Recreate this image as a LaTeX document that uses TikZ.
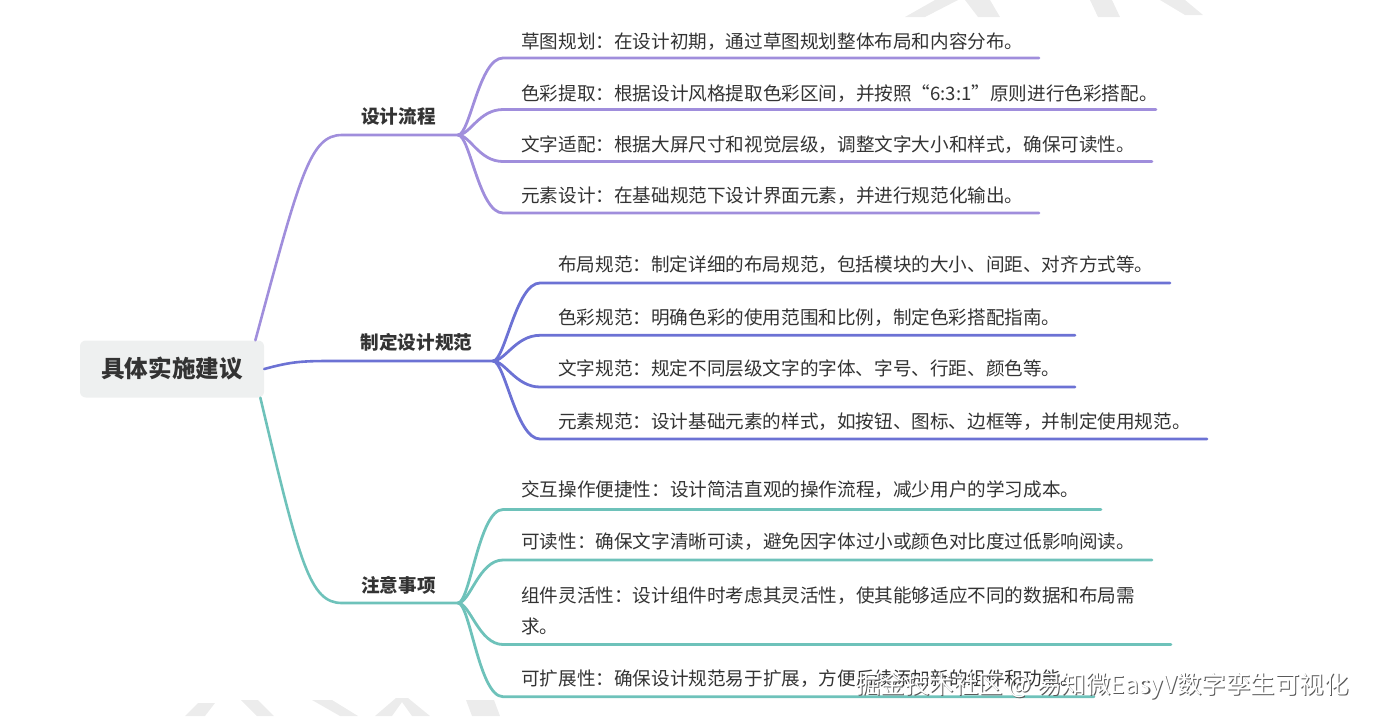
\documentclass[tikz,border=0pt]{standalone}
\usepackage{fontspec}
\setmainfont{Noto Sans CJK SC}
\usetikzlibrary{positioning}
\definecolor{rootbox}{RGB}{238,240,240}
\definecolor{flowline}{RGB}{160,142,220}
\definecolor{specline}{RGB}{108,114,212}
\definecolor{noteline}{RGB}{110,194,186}
\definecolor{inktext}{RGB}{51,51,51}
\definecolor{markgray}{RGB}{236,236,236}
\tikzset{
  root/.style={
    fill=rootbox,
    rounded corners=2mm,
    minimum width=184pt,
    minimum height=57pt,
    text=inktext,
    font=\fontsize{23.6}{28}\selectfont\bfseries
  },
  topic/.style={inner sep=0pt, text=inktext, font=\fontsize{18.6}{22}\selectfont\bfseries},
  item/.style={inner sep=0pt, anchor=west, align=left, text=inktext, font=\fontsize{18.6}{31.7}\selectfont},
  link/.style={line width=2.8pt, line cap=round},
  stem/.style={line width=2.6pt, line cap=round}
}

\begin{document}
\begin{tikzpicture}[x=1pt,y=-1pt]
        \useasboundingbox (0,0) rectangle (1379,716);
        % faint marks behind the map
        \fill[markgray] (935,0) -- (958,0) -- (925,17) -- (905,17) -- cycle;
        \fill[markgray] (965,0) -- (990,0) -- (1000,17) -- (978,17) -- cycle;
        \fill[markgray] (1090,0) -- (1112,0) -- (1120,17) -- (1098,17) -- cycle;
        \fill[markgray] (1160,0) -- (1185,0) -- (1203,15) -- (1185,15) -- cycle;
        \fill[markgray] (185,716) -- (205,716) -- (215,703) -- (198,703) -- cycle;
        \fill[markgray] (241,700) -- (258,700) -- (274,716) -- (257,716) -- cycle;
        \fill[markgray] (312,700) -- (332,700) -- (358,716) -- (340,716) -- cycle;
        \fill[markgray] (375,716) -- (392,716) -- (402,702) -- (412,716) -- (430,716) -- (408,698) -- (396,698) -- cycle;
        \fill[markgray] (466,700) -- (494,700) -- (500,716) -- (472,716) -- cycle;

        \node[root] (root) at (172,369) {具体实施建议};

        \node[topic] (flow) at (398.5,116.7) {设计流程};
        \node[topic] (spec) at (416.5,342.3) {制定设计规范};
        \node[topic] (note) at (398.5,585) {注意事项};

        \coordinate (flowknee) at (342,135);
        \coordinate (flowfan) at (458,135);
        \coordinate (specknee) at (330,361);
        \coordinate (specfan) at (493,361);
        \coordinate (noteknee) at (342,603);
        \coordinate (notefan) at (458,603);

        % design flow
        \node[item] (f1) at (521,41.7) {草图规划：在设计初期，通过草图规划整体布局和内容分布。};
        \node[item] (f2) at (521,93.3) {色彩提取：根据设计风格提取色彩区间，并按照“6:3:1”原则进行色彩搭配。};
        \node[item] (f3) at (521,145) {文字适配：根据大屏尺寸和视觉层级，调整文字大小和样式，确保可读性。};
        \node[item] (f4) at (521,196) {元素设计：在基础规范下设计界面元素，并进行规范化输出。};
        \coordinate (f1a) at (503,58);   \coordinate (f1b) at (1039,58);
        \coordinate (f2a) at (503,109.5); \coordinate (f2b) at (1156,109.5);
        \coordinate (f3a) at (503,161.5); \coordinate (f3b) at (1152,161.5);
        \coordinate (f4a) at (503,213);  \coordinate (f4b) at (1039,213);

        % spec rules
        \node[item] (s1) at (558,265) {布局规范：制定详细的布局规范，包括模块的大小、间距、对齐方式等。};
        \node[item] (s2) at (558,317.3) {色彩规范：明确色彩的使用范围和比例，制定色彩搭配指南。};
        \node[item] (s3) at (558,368.3) {文字规范：规定不同层级文字的字体、字号、行距、颜色等。};
        \node[item] (s4) at (558,421.7) {元素规范：设计基础元素的样式，如按钮、图标、边框等，并制定使用规范。};
        \coordinate (s1a) at (540,283);  \coordinate (s1b) at (1170,283);
        \coordinate (s2a) at (540,335.3); \coordinate (s2b) at (1075,335.3);
        \coordinate (s3a) at (540,387);  \coordinate (s3b) at (1075,387);
        \coordinate (s4a) at (540,439);  \coordinate (s4b) at (1207,439);

        % notes
        \node[item] (n1) at (521,490) {交互操作便捷性：设计简洁直观的操作流程，减少用户的学习成本。};
        \node[item] (n2) at (521,541.7) {可读性：确保文字清晰可读，避免因字体过小或颜色对比度过低影响阅读。};
        \node[item] (n3) at (521,611) {组件灵活性：设计组件时考虑其灵活性，使其能够适应不同的数据和布局需\\求。};
        \node[item] (n4) at (521,678.3) {可扩展性：确保设计规范易于扩展，方便后续添加新的组件和功能。};
        \coordinate (n1a) at (503,509.5); \coordinate (n1b) at (1101,509.5);
        \coordinate (n2a) at (503,560);  \coordinate (n2b) at (1152,560);
        \coordinate (n3a) at (503,644.5); \coordinate (n3b) at (1171,644.5);
        \coordinate (n4a) at (503,696.7); \coordinate (n4b) at (1094,696.7);

        % main branches
        \draw[stem, flowline] (root.19) .. controls (300,175) and (310,135) .. (flowknee) -- (flowfan);
        \draw[stem, specline] (root.east) .. controls (290,362) and (300,361) .. (specknee) -- (specfan);
        \draw[stem, noteline] (root.-18) .. controls (300,565) and (310,603) .. (noteknee) -- (notefan);

        \draw[link, flowline] (flowfan) .. controls +(12,0) and +(-24,0) .. (f1a) -- (f1b);
        \draw[link, flowline] (flowfan) .. controls +(12,0) and +(-24,0) .. (f2a) -- (f2b);
        \draw[link, flowline] (flowfan) .. controls +(12,0) and +(-24,0) .. (f3a) -- (f3b);
        \draw[link, flowline] (flowfan) .. controls +(12,0) and +(-24,0) .. (f4a) -- (f4b);

        \draw[link, specline] (specfan) .. controls +(12,0) and +(-24,0) .. (s1a) -- (s1b);
        \draw[link, specline] (specfan) .. controls +(12,0) and +(-24,0) .. (s2a) -- (s2b);
        \draw[link, specline] (specfan) .. controls +(12,0) and +(-24,0) .. (s3a) -- (s3b);
        \draw[link, specline] (specfan) .. controls +(12,0) and +(-24,0) .. (s4a) -- (s4b);

        \draw[link, noteline] (notefan) .. controls +(12,0) and +(-24,0) .. (n1a) -- (n1b);
        \draw[link, noteline] (notefan) .. controls +(12,0) and +(-24,0) .. (n2a) -- (n2b);
        \draw[link, noteline] (notefan) .. controls +(12,0) and +(-24,0) .. (n3a) -- (n3b);
        \draw[link, noteline] (notefan) .. controls +(12,0) and +(-24,0) .. (n4a) -- (n4b);

        % site watermark
        \node[anchor=west, inner sep=0pt, text=black!65, font=\fontsize{24.5}{28}\selectfont] (wmshade) at (857,687) {掘金技术社区 @ 易知微EasyV数字孪生可视化};
        \node[anchor=west, inner sep=0pt, text=white, font=\fontsize{24.5}{28}\selectfont] (wm) at (855.8,685.8) {掘金技术社区 @ 易知微EasyV数字孪生可视化};
      \end{tikzpicture}
\end{document}
